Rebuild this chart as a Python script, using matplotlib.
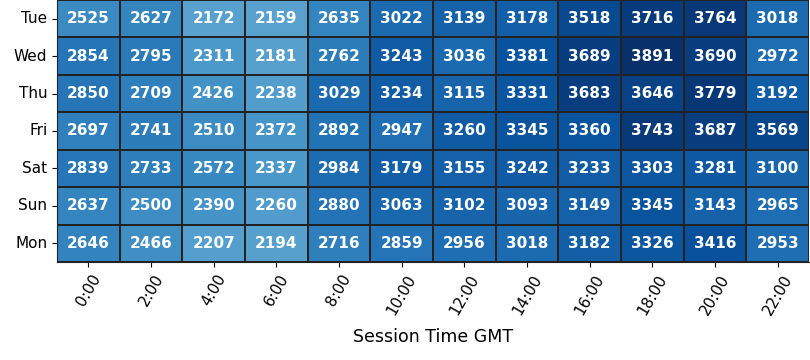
import matplotlib
matplotlib.use("Agg")
import matplotlib.pyplot as plt
import seaborn as sns
import numpy as np

days = ["Tue", "Wed", "Thu", "Fri", "Sat", "Sun", "Mon"]
hours = ["0:00", "2:00", "4:00", "6:00", "8:00", "10:00",
         "12:00", "14:00", "16:00", "18:00", "20:00", "22:00"]

tue = [2525, 2627, 2172, 2159, 2635, 3022, 3139, 3178, 3518, 3716, 3764, 3018]
wed = [2854, 2795, 2311, 2181, 2762, 3243, 3036, 3381, 3689, 3891, 3690, 2972]
thu = [2850, 2709, 2426, 2238, 3029, 3234, 3115, 3331, 3683, 3646, 3779, 3192]
fri = [2697, 2741, 2510, 2372, 2892, 2947, 3260, 3345, 3360, 3743, 3687, 3569]
sat = [2839, 2733, 2572, 2337, 2984, 3179, 3155, 3242, 3233, 3303, 3281, 3100]
sun = [2637, 2500, 2390, 2260, 2880, 3063, 3102, 3093, 3149, 3345, 3143, 2965]
mon = [2646, 2466, 2207, 2194, 2716, 2859, 2956, 3018, 3182, 3326, 3416, 2953]

data = np.array([tue, wed, thu, fri, sat, sun, mon])

fig, ax = plt.subplots(figsize=(8.1, 3.6), dpi=100)
sns.heatmap(data, ax=ax, cmap="Blues", vmin=0, cbar=False,
            annot=True, fmt="d", linewidths=1.2, linecolor="#222222",
            annot_kws={"color": "white", "weight": "bold", "size": 11},
            xticklabels=hours, yticklabels=days)
ax.tick_params(axis="x", labelsize=11, labelrotation=60)
ax.tick_params(axis="y", labelsize=11, labelrotation=0)
ax.set_xlabel("Session Time GMT", fontsize=12.5, labelpad=8)
for spine in ["bottom", "left"]:
    ax.spines[spine].set_visible(True)
    ax.spines[spine].set_color("#222222")
fig.subplots_adjust(left=57/810, right=809/810, top=1.0, bottom=1 - 262/360)
fig.savefig("out.png", dpi=100)
